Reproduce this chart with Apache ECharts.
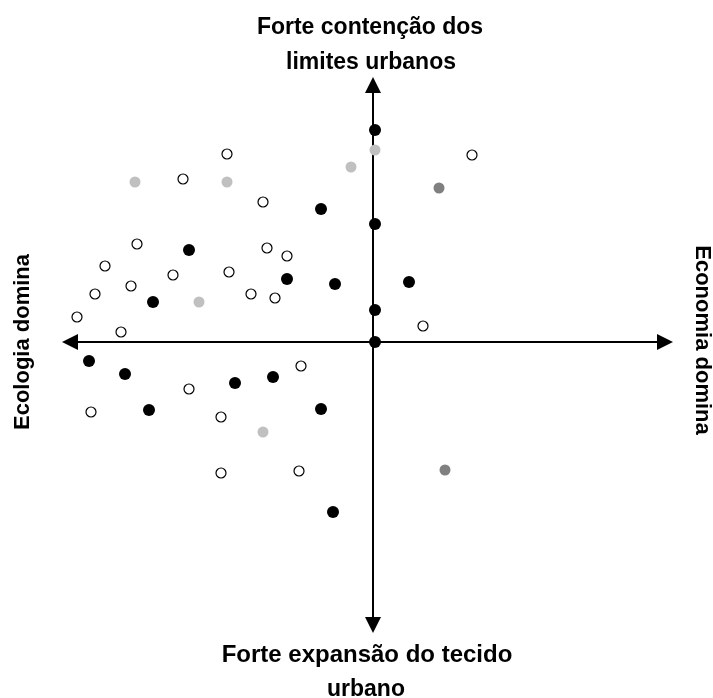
<!DOCTYPE html>
<html>
<head>
<meta charset="utf-8">
<script src="https://cdn.jsdelivr.net/npm/echarts@6/dist/echarts.min.js"></script>
<style>
html,body{margin:0;padding:0;background:#fff;}
#chart{width:713px;height:698px;}
</style>
</head>
<body>
<div id="chart"></div>
<script>
// Axis labels (quadrant texts)
const topLabel = ['Forte contenção dos', 'limites urbanos'];
const bottomLabel = ['Forte expansão do tecido', 'urbano'];
const leftLabel = 'Ecologia domina';
const rightLabel = 'Economia domina';

// Points [x, y] (x: ecology(-) vs economy(+), y: expansion(-) vs containment(+))
const blackPoints = [
  [0.2, 21.2], [0.2, 11.8], [0.2, 3.2], [0.2, 0],
  [-5.2, 13.3], [-18.4, 9.2], [-8.6, 6.3], [-3.8, 5.8], [-22.0, 4.0], [3.6, 6.0],
  [-28.4, -1.9], [-24.8, -3.2], [-13.8, -4.1], [-10.0, -3.5], [-22.4, -6.8],
  [-5.2, -6.7], [-4.0, -17.0]
];
const hollowPoints = [
  [-14.6, 18.8], [-19.0, 16.3], [-11.0, 14.0], [-23.6, 9.8], [-10.6, 9.4],
  [-8.6, 8.6], [-26.8, 7.6], [-20.0, 6.7], [-14.4, 7.0], [-24.2, 5.6],
  [-27.8, 4.8], [-12.2, 4.8], [-9.8, 4.4], [-29.6, 2.5], [-25.2, 1.0],
  [9.9, 18.7], [5.0, 1.6], [-18.4, -4.7], [-7.2, -2.4], [-28.2, -7.0],
  [-15.2, -7.5], [-15.2, -13.1], [-7.4, -12.9]
];
const lightGrayPoints = [
  [0.2, 19.2], [-2.2, 17.5], [-23.8, 16.0], [-14.6, 16.0], [-17.4, 4.0], [-11.0, -9.0]
];
const darkGrayPoints = [
  [6.6, 15.4], [7.2, -12.8]
];

const chart = echarts.init(document.getElementById('chart'), null, {renderer: 'canvas'});
function txt(x, y, text, size, rot) {
  return {
    type: 'text', x: x, y: y, rotation: rot || 0, z: 10,
    style: {
      text: text, font: 'bold ' + size + 'px "Liberation Sans", Arial, sans-serif', fill: '#000',
      align: 'center', verticalAlign: 'middle',
      textAlign: 'center', textVerticalAlign: 'middle'
    }
  };
}
const axisCommon = {
  type: 'value',
  axisLine: {
    show: true, onZero: true,
    symbol: ['triangle', 'triangle'], symbolSize: [16, 16],
    lineStyle: {color: '#000', width: 2}
  },
  axisTick: {show: false},
  axisLabel: {show: false},
  splitLine: {show: false}
};
chart.setOption({
  animation: false,
  backgroundColor: '#fff',
  grid: {left: 70, right: 48, top: 85, bottom: 73, containLabel: false},
  xAxis: Object.assign({}, axisCommon, {min: -30.3, max: 29.2}),
  yAxis: Object.assign({}, axisCommon, {min: -28.3, max: 25.7}),
  graphic: [
    txt(370, 28, topLabel[0], 23),
    txt(371, 63, topLabel[1], 23),
    txt(367, 655, bottomLabel[0], 24),
    txt(366, 690, bottomLabel[1], 23),
    txt(23, 342, leftLabel, 22, Math.PI / 2),
    txt(702, 340, rightLabel, 22, -Math.PI / 2)
  ],
  series: [
    {type: 'scatter', data: hollowPoints, symbol: 'circle', symbolSize: 10,
     itemStyle: {color: '#fff', borderColor: '#000', borderWidth: 1.2, opacity: 1}},
    {type: 'scatter', data: lightGrayPoints, symbol: 'circle', symbolSize: 11,
     itemStyle: {color: '#c0c0c0', opacity: 1}},
    {type: 'scatter', data: darkGrayPoints, symbol: 'circle', symbolSize: 11,
     itemStyle: {color: '#808080', opacity: 1}},
    {type: 'scatter', data: blackPoints, symbol: 'circle', symbolSize: 12,
     itemStyle: {color: '#000', opacity: 1}}
  ]
});
</script>
</body>
</html>
